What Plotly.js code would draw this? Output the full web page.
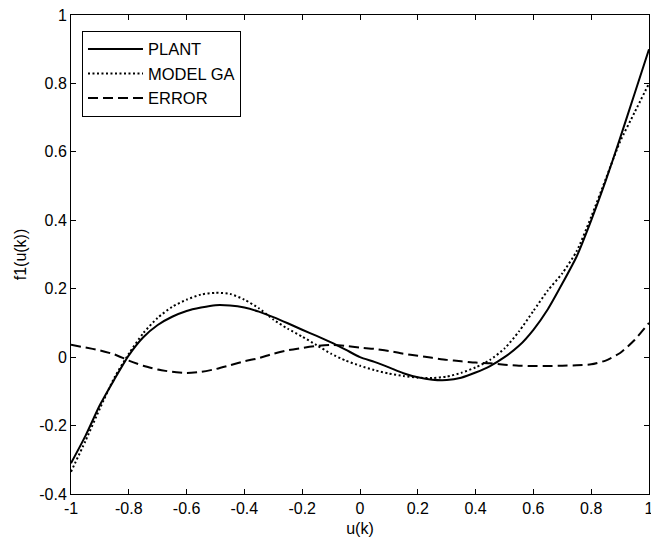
<!DOCTYPE html>
<html>
<head>
<meta charset="utf-8">
<script src="https://cdn.plot.ly/plotly-3.0.1.min.js"></script>
<style>html,body{margin:0;padding:0;background:#fff;}#chart{width:651px;height:547px;}</style>
</head>
<body>
<div id="chart"></div>
<script>
const xValues = [-1, -0.95, -0.9, -0.85, -0.8, -0.75, -0.7, -0.65, -0.6, -0.55, -0.5, -0.45, -0.4, -0.35, -0.3, -0.25, -0.2, -0.15, -0.1, -0.05, 0, 0.05, 0.1, 0.15, 0.2, 0.25, 0.3, 0.35, 0.4, 0.45, 0.5, 0.55, 0.6, 0.65, 0.7, 0.75, 0.8, 0.85, 0.9, 0.95, 1];
const plant = [-0.31, -0.23, -0.14, -0.065, 0.005, 0.058, 0.094, 0.118, 0.135, 0.145, 0.152, 0.151, 0.145, 0.133, 0.117, 0.099, 0.08, 0.062, 0.043, 0.022, 0.0, -0.014, -0.03, -0.047, -0.059, -0.066, -0.067, -0.06, -0.045, -0.026, 0.0, 0.033, 0.08, 0.14, 0.215, 0.295, 0.40, 0.515, 0.64, 0.77, 0.90];
const modelGA = [-0.335, -0.245, -0.15, -0.06, 0.01, 0.07, 0.115, 0.147, 0.168, 0.183, 0.188, 0.185, 0.168, 0.143, 0.11, 0.083, 0.06, 0.035, 0.01, -0.01, -0.025, -0.038, -0.048, -0.055, -0.06, -0.061, -0.057, -0.046, -0.03, -0.008, 0.025, 0.075, 0.135, 0.195, 0.245, 0.31, 0.41, 0.52, 0.63, 0.715, 0.80];
const errorVals = [0.036, 0.028, 0.02, 0.008, -0.01, -0.025, -0.036, -0.043, -0.046, -0.043, -0.035, -0.024, -0.012, -0.003, 0.01, 0.02, 0.027, 0.033, 0.036, 0.033, 0.028, 0.024, 0.018, 0.01, 0.004, -0.002, -0.008, -0.012, -0.016, -0.018, -0.022, -0.025, -0.026, -0.026, -0.025, -0.024, -0.021, -0.01, 0.012, 0.05, 0.1];
const seriesNames = ["PLANT", "MODEL GA", "ERROR"];
const xTickVals = [-1, -0.8, -0.6, -0.4, -0.2, 0, 0.2, 0.4, 0.6, 0.8, 1];
const xTickText = ["-1", "-0.8", "-0.6", "-0.4", "-0.2", "0", "0.2", "0.4", "0.6", "0.8", "1"];
const yTickVals = [-0.4, -0.2, 0, 0.2, 0.4, 0.6, 0.8, 1];
const yTickText = ["-0.4", "-0.2", "0", "0.2", "0.4", "0.6", "0.8", "1"];

const font = "Liberation Sans, Arial, sans-serif";
const traces = [
  {x: xValues, y: plant, name: seriesNames[0], mode: "lines", line: {color: "#000", width: 2, dash: "solid", shape: "spline", smoothing: 0.6}},
  {x: xValues, y: modelGA, name: seriesNames[1], mode: "lines", line: {color: "#000", width: 2, dash: "2px,2.5px", shape: "spline", smoothing: 0.6}},
  {x: xValues, y: errorVals, name: seriesNames[2], mode: "lines", line: {color: "#000", width: 2, dash: "10px,5px", shape: "spline", smoothing: 0.6}}
];
const axisCommon = {
  showgrid: false, zeroline: false, showline: true, linecolor: "#000", linewidth: 1,
  mirror: "ticks", ticks: "inside", ticklen: 5, tickwidth: 1, tickcolor: "#000",
  tickfont: {family: font, size: 16, color: "#000"}, automargin: false, ticklabeloverflow: "allow"
};
const layout = {
  width: 651, height: 547,
  margin: {l: 71, r: 2, t: 15, b: 53},
  paper_bgcolor: "#fff", plot_bgcolor: "#fff",
  showlegend: true,
  legend: {x: 0.019, y: 0.967, xanchor: "left", yanchor: "top", bgcolor: "#fff", bordercolor: "#000", borderwidth: 1,
           itemwidth: 55, font: {family: font, size: 16.5, color: "#000"}},
  xaxis: Object.assign({}, axisCommon, {range: [-1, 1], tickmode: "array", tickvals: xTickVals, ticktext: xTickText,
           title: {text: "u(k)", font: {family: font, size: 16, color: "#000"}, standoff: 6}}),
  yaxis: Object.assign({}, axisCommon, {range: [-0.4, 1], tickmode: "array", tickvals: yTickVals, ticktext: yTickText,
           title: {text: "f1(u(k))", font: {family: font, size: 16, color: "#000"}, standoff: 8}})
};
Plotly.newPlot("chart", traces, layout, {displayModeBar: false, staticPlot: true});
</script>
</body>
</html>
